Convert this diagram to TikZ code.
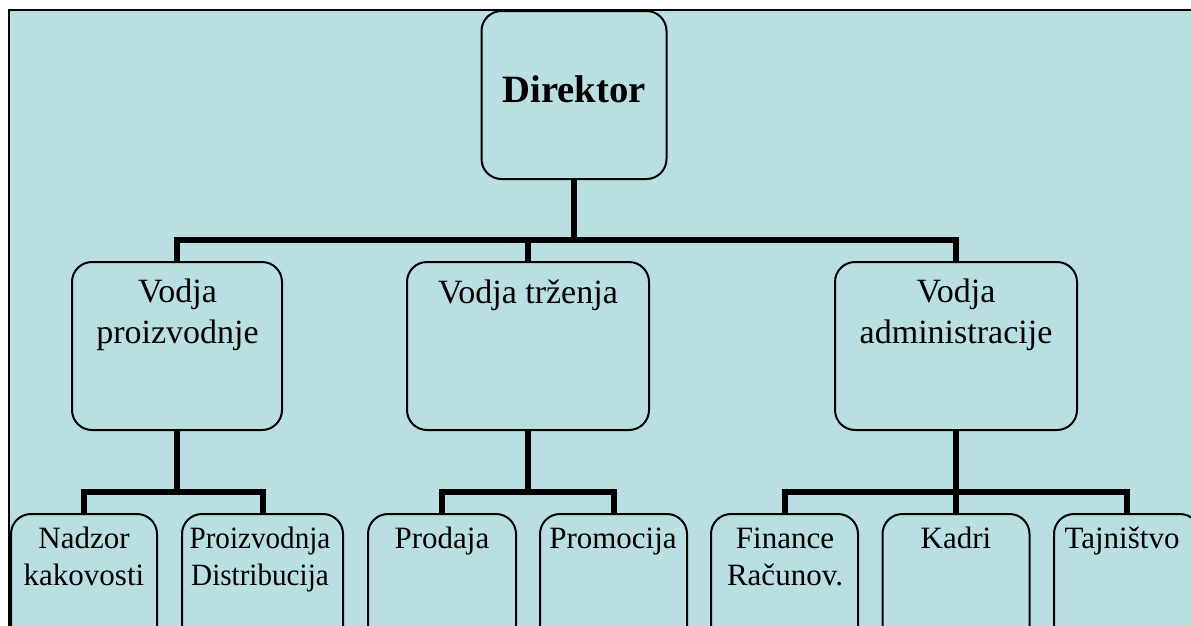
\documentclass[tikz,border=0pt]{standalone}
\usepackage{fontspec}
\setmainfont{Liberation Serif}
\newfontfamily\narrowserif[FakeStretch=0.94]{Liberation Serif}
\definecolor{bgblue}{RGB}{186,223,226}
\begin{document}
\begin{tikzpicture}[x=0.75pt,y=-0.75pt,
  box/.style 2 args={draw=black,line width=1.5pt,rounded corners=15pt,fill=bgblue,
    inner sep=0pt,minimum width=#1*0.75pt,minimum height=#2*0.75pt},
  conn/.style={line width=4.5pt,draw=black,line join=miter},
  toptext/.style={font=\fontsize{29}{34}\selectfont\bfseries,anchor=base,inner sep=0pt},
  midtext/.style={font=\fontsize{25.5}{30.75}\selectfont,align=center,anchor=base,inner sep=0pt},
  lowtext/.style={font=\fontsize{23.25}{27.75}\selectfont,align=center,anchor=base,inner sep=0pt},
]
\useasboundingbox (0,0) rectangle (1191,625);
\clip (0,0) rectangle (1191,625);
\fill[white] (0,0) rectangle (1191,625);
% panel
\draw[line width=1.6pt,fill=bgblue] (9,10) rectangle (1210,650);

% boxes
\node[box={185}{168}] (dir) at (574,95) {};
\node[box={210}{168}] (vp) at (177,346) {};
\node[box={242}{168}] (vt) at (528,346) {};
\node[box={242}{168}] (va) at (956,346) {};

\node[box={146}{170}] (nk) at (84,599) {};
\node[box={161}{170}] (pd) at (262.5,599) {};
\node[box={148}{170}] (pr) at (442,599) {};
\node[box={147}{170}] (pm) at (613.5,599) {};
\node[box={147}{170}] (fr) at (784.5,599) {};
\node[box={147}{170}] (kd) at (956,599) {};
\node[box={146}{170}] (tj) at (1127,599) {};

% labels (base anchor sits on the last line)
\node[toptext] (tdir) at (574,102) {Direktor};
\node[midtext] (tvp) at (177.5,343) {Vodja\\proizvodnje};
\node[midtext] (tvt) at (528,303) {Vodja trženja};
\node[midtext] (tva) at (956,343) {Vodja\\administracije};

\node[lowtext] (tnk) at (84,585) {Nadzor\\kakovosti};
\node[lowtext,font=\fontsize{23.25}{27.75}\narrowserif] (tpd) at (260,585) {Proizvodnja\\Distribucija};
\node[lowtext] (tpr) at (442,548) {Prodaja};
\node[lowtext] (tpm) at (613,548) {Promocija};
\node[lowtext] (tfr) at (785,585) {Finance\\Računov.};
\node[lowtext] (tkd) at (956,548) {Kadri};
\node[lowtext] (ttj) at (1122,548) {Tajništvo};

% connectors
\coordinate (bus0) at (574,240);
\draw[conn] (dir.south) -- (bus0);
\draw[conn] (vp.north) |- (bus0) -| (va.north);
\draw[conn] (vt.north) -- (vt.north |- bus0);

\coordinate (bus1) at (177,492);
\draw[conn] (vp.south) -- (bus1);
\draw[conn] (nk.north) |- (bus1) -| (pd.north);

\coordinate (bus2) at (528,492);
\draw[conn] (vt.south) -- (bus2);
\draw[conn] (pr.north) |- (bus2) -| (pm.north);

\coordinate (bus3) at (956,492);
\draw[conn] (va.south) -- (bus3);
\draw[conn] (fr.north) |- (bus3) -| (tj.north);
\draw[conn] (kd.north) -- (bus3);
\end{tikzpicture}
\end{document}
